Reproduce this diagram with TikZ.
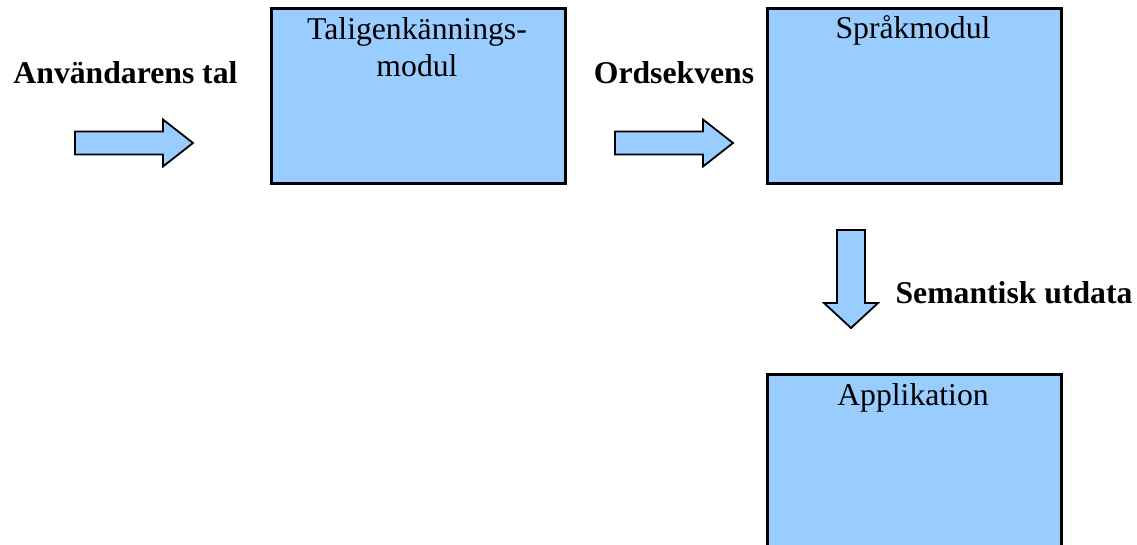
\documentclass[tikz,border=0pt]{standalone}
\usepackage{fontspec}
\setmainfont{Liberation Serif}
\definecolor{boxblue}{HTML}{99CCFF}
\tikzset{
  modbox/.style={draw=black, fill=boxblue, line width=2.5pt, inner sep=0pt},
  blockarrow/.style={draw=black, fill=boxblue, line width=1.8pt, line join=miter},
  modtext/.style={font=\fontsize{31.7}{37}\selectfont, align=center, anchor=base, inner sep=0pt},
  flowtext/.style={font=\fontsize{31.7}{37}\selectfont\bfseries, anchor=base, inner sep=0pt}
}
\begin{document}
\begin{tikzpicture}[x=1pt,y=-1pt]
\useasboundingbox (0,0) rectangle (1137,544);
\clip (0,0) rectangle (1137,544);
% modules
\node[modbox, minimum width=294, minimum height=175, anchor=north west] (taligenk) at (270,7) {};
\node[modbox, minimum width=294, minimum height=175, anchor=north west] (sprak) at (766,7) {};
\node[modbox, minimum width=294, minimum height=190, anchor=north west] (appl) at (766,373) {};
\node[modtext] (taligenktext) at (417,76) {Taligenkännings-\\modul};
\node[modtext] (spraktext) at (913,38) {Språkmodul};
\node[modtext] (appltext) at (913,405) {Applikation};
% labels
\node[flowtext] (anvtal) at (125.5,83) {Användarens tal};
\node[flowtext] (ordsek) at (674,83) {Ordsekvens};
\node[flowtext] (semut) at (1014,303) {Semantisk utdata};
% block arrows
\draw[blockarrow] (75,131.5) -- (163,131.5) -- (163,119.5) -- (193,143) -- (163,166.5) -- (163,154.5) -- (75,154.5) -- cycle;
\draw[blockarrow] (615,131.5) -- (703,131.5) -- (703,119.5) -- (733,143) -- (703,166.5) -- (703,154.5) -- (615,154.5) -- cycle;
\draw[blockarrow] (837,230) -- (865,230) -- (865,303) -- (878,303) -- (851,328) -- (824,303) -- (837,303) -- cycle;
\end{tikzpicture}
\end{document}
